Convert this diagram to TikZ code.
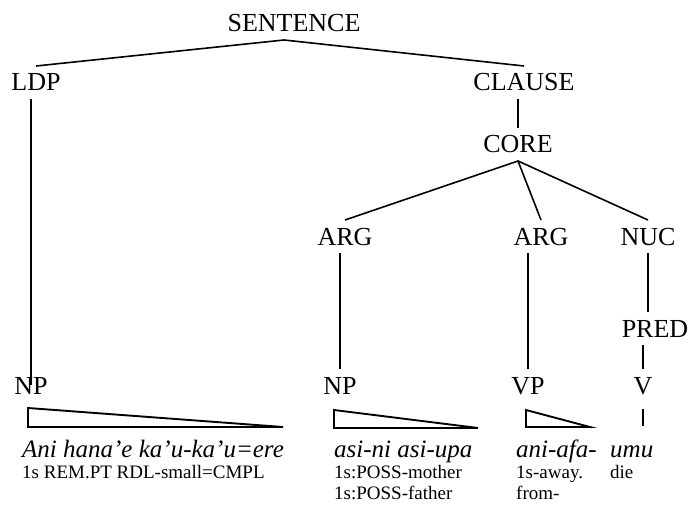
\documentclass[tikz,border=0pt]{standalone}
\usepackage{fontspec}
\setmainfont{Liberation Serif}
\usetikzlibrary{positioning}

\begin{document}
\begin{tikzpicture}[
        x=1pt, y=-1pt,
        lab/.style={font=\fontsize{26}{26}\selectfont, inner sep=0pt, outer sep=8pt,
                    text height=17pt, text depth=0pt, anchor=base},
        word/.style={font=\fontsize{25}{25}\selectfont\itshape, inner sep=0pt, anchor=base west},
        gls/.style={font=\fontsize{19}{19}\selectfont, inner sep=0pt, anchor=base west},
        br/.style={line width=1.6pt},
        tri/.style={line width=1.9pt, line join=miter},
    ]
    \useasboundingbox (0,0) rectangle (691,516);

    %% ---- Upper tree ----
    \node[lab] (sent)   at (294, 32)  {SENTENCE};
    \node[lab] (ldp)    at (36, 91)   {LDP};
    \node[lab] (clause) at (524, 91)  {CLAUSE};
    \node[lab] (core)   at (518, 153) {CORE};
    \node[lab] (arg1)   at (345, 245) {ARG};
    \node[lab] (arg2)   at (541, 245) {ARG};
    \node[lab] (nuc)    at (648, 245) {NUC};
    \node[lab] (pred)   at (655, 337) {PRED};

    %% ---- Phrase level ----
    \node[lab] (np1) at (31, 394)  {NP};
    \node[lab] (np2) at (340, 394) {NP};
    \node[lab] (vp)  at (528, 394) {VP};
    \node[lab] (v)   at (643, 394) {V};

    %% ---- Branches ----
    \coordinate (sapex) at ([xshift=-10pt]sent.south);
    \draw[br] (ldp.north) -- (sapex) -- (clause.north);
    \draw[br] (core.north |- clause.south) -- (core.north);
    \draw[br] (arg1.north) -- (core.south) -- (arg2.north);
    \draw[br] (core.south) -- (nuc.north);
    \draw[br] (np1.north |- ldp.south) -- ([yshift=-16pt]np1.north);
    \draw[br] (np2.north |- arg1.south) -- (np2.north);
    \draw[br] (vp.north |- arg2.south) -- (vp.north);
    \draw[br] (nuc.south) -- (nuc.south |- pred.north);
    \draw[br] (v.north |- pred.south) -- (v.north);
    \draw[br] ([yshift=-7pt]v.south) -- ([yshift=-24pt]v.south);

    % triangles over the words
    \foreach \xl/\xr/\yt/\yb in {28/283/408/427, 334/478/410/428, 526/590/410/427} {
        \draw[tri] (\xl,\yt) -- (\xl,\yb) -- (\xr,\yb) -- cycle;
    }

    %% ---- Words and glosses ----
    \node[word] (w1)  at (22, 457)  {Ani hana’e ka’u-ka’u=ere};
    \node[gls]  (g1)  at (22, 478)  {1s REM.PT RDL-small=CMPL};
    \node[word] (w2)  at (334, 457) {asi-ni asi-upa};
    \node[gls]  (g2a) at (334, 478) {1s:POSS-mother};
    \node[gls]  (g2b) at (334, 499) {1s:POSS-father};
    \node[word] (w3)  at (516, 457) {ani-afa-};
    \node[gls]  (g3a) at (516, 478) {1s-away.};
    \node[gls]  (g3b) at (516, 499) {from-};
    \node[word] (w4)  at (610, 457) {umu};
    \node[gls]  (g4)  at (610, 478) {die};

\end{tikzpicture}
\end{document}
